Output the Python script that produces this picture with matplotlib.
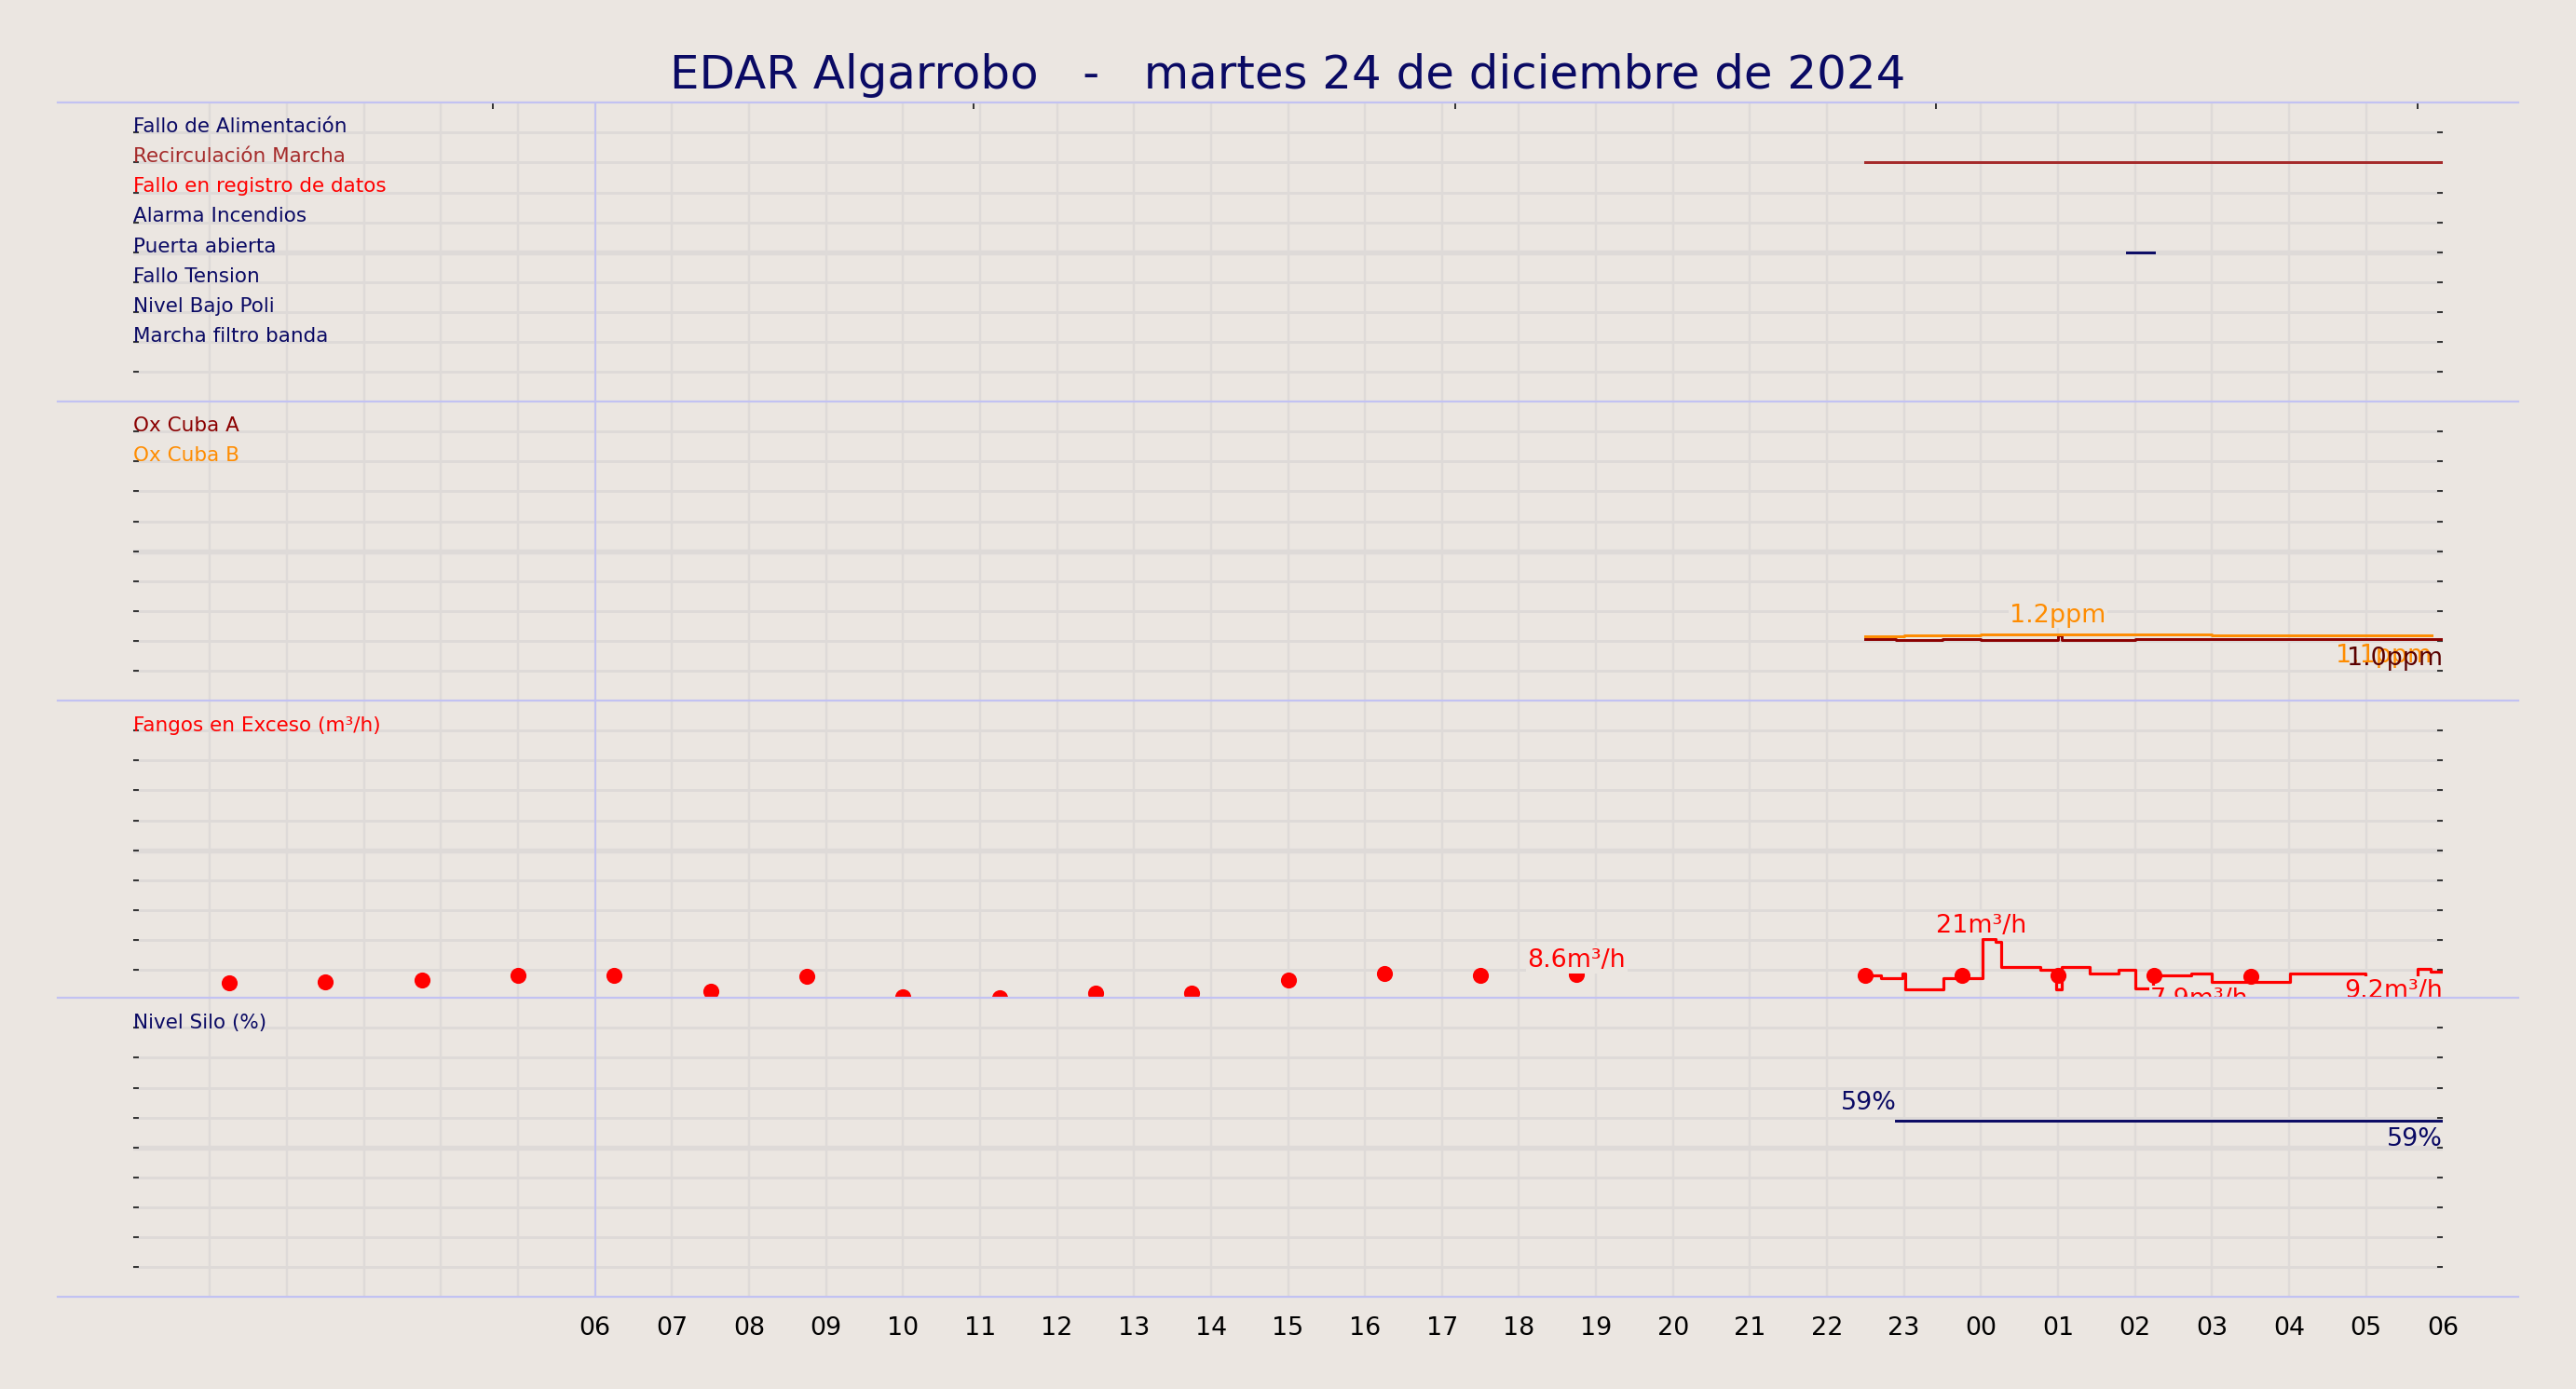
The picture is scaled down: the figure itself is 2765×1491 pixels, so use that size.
import matplotlib
matplotlib.use("Agg")
import matplotlib.pyplot as plt
from matplotlib.lines import Line2D
import numpy as np

W, H = 1568.0, 846.0
BG = "#ebe6e1"
NAVY = "#0a0a64"
GRID = "#dedad8"
BLUE = "#c2c2f2"

# ---------- data ----------
alarm_labels = ["Fallo de Alimentación", "Recirculación Marcha", "Fallo en registro de datos",
                "Alarma Incendios", "Puerta abierta", "Fallo Tension", "Nivel Bajo Poli",
                "Marcha filtro banda"]
alarm_colors = [NAVY, "#a52a2a", "#ff0000", NAVY, NAVY, NAVY, NAVY, NAVY]
recirc_hours = [22.5, 30.0]
puerta_hours = [25.9, 26.25]

ox_a_hours = [22.5, 22.9, 23.5, 24.0, 25.0, 25.05, 26.0, 27.0, 28.0, 30.0]
ox_a_vals = [1.15, 1.14, 1.16, 1.13, 1.22, 1.14, 1.15, 1.16, 1.15, 1.15]
ox_b_hours = [22.5, 23.0, 23.5, 24.0, 25.0, 26.0, 27.0, 28.0, 29.0, 29.85]
ox_b_vals = [1.21, 1.22, 1.23, 1.24, 1.24, 1.24, 1.23, 1.23, 1.23, 1.23]

fango_dot_hours = [1.25, 2.5, 3.75, 5.0, 6.25, 7.5, 8.75, 10.0, 11.25, 12.5, 13.75, 15.0,
                   16.25, 17.5, 18.75, 22.5, 23.75, 25.0, 26.25, 27.5]
fango_dot_vals = [5.7, 6.2, 6.8, 8.5, 8.5, 2.8, 7.9, 1.1, 0.6, 2.3, 2.3, 6.8,
                  9.0, 8.5, 8.6, 8.5, 8.5, 8.5, 8.5, 7.9]
fango_step_hours = [22.49, 22.70, 22.98, 23.02, 23.51, 24.02, 24.19, 24.26, 24.77,
                    24.98, 25.05, 25.41, 25.79, 26.0, 26.24, 26.73, 27.0, 28.01, 28.99,
                    29.67, 29.84, 30.0]
fango_step_vals = [8.5, 7.3, 9.0, 3.4, 7.3, 20.9, 19.8, 11.3, 10.2, 3.4, 11.3, 9.0,
                   10.2, 4.0, 8.5, 9.0, 6.2, 9.0, 7.3, 10.7, 9.6, 9.6]

silo_hours = [22.9, 30.0]
silo_vals = [59, 59]

tick_hours = list(range(6, 31))
tick_labels = ["%02d" % (h % 24) for h in tick_hours]

# ---------- figure ----------
fig = plt.figure(figsize=(15.68, 8.46), dpi=176.34, facecolor=BG)
X0, X1 = 81, 1487
tops = [63, 245, 427, 608]
ph = 182
ylims = [(0, 10), (0, 5.6), (0, 103), (0, 100)]
axes = []
for t, yl in zip(tops, ylims):
    ax = fig.add_axes([X0 / W, 1 - (t + ph) / H, (X1 - X0) / W, ph / H])
    ax.set_facecolor(BG)
    ax.set_xlim(0, 30)
    ax.set_ylim(*yl)
    for s in ax.spines.values():
        s.set_visible(False)
    gy = np.linspace(yl[0], yl[1], 11)
    for i, g in enumerate(gy[1:-1], 1):
        ax.axhline(g, color=GRID, lw=2.2 if i == 5 else 1.2, zorder=0)
    for h in range(1, 30):
        ax.axvline(h, color=GRID, lw=1.0, zorder=0)
    ax.set_yticks(gy[1:])
    ax.tick_params(axis="y", left=True, right=True, direction="in", length=2.5,
                   labelleft=False, width=0.8, color="#333333")
    ax.tick_params(axis="x", bottom=False, labelbottom=False, top=False)
    ax.axvline(6, color=BLUE, lw=0.8, zorder=1)
    axes.append(ax)

a1, a2, a3, a4 = axes
a1.set_xticks([4.67 + 6.25 * k for k in range(5)])
a1.tick_params(axis="x", top=True, direction="in", length=3, color="#333333")

FS = 8.8
# panel 1
for i, (lab, c) in enumerate(zip(alarm_labels, alarm_colors)):
    a1.text(0, 10 - (i + 0.78) * 1.0, lab, color=c, fontsize=FS, va="center", ha="left")
a1.plot(recirc_hours, [10 - 2.0] * 2, color="#a52a2a", lw=1.2)
a1.plot(puerta_hours, [10 - 5.0] * 2, color=NAVY, lw=1.2)

# panel 2
a2.text(0, 5.6 * 0.923, "Ox Cuba A", color="#8b0000", fontsize=FS, va="center")
a2.text(0, 5.6 * 0.823, "Ox Cuba B", color="#ff8c00", fontsize=FS, va="center")
a2.step(ox_a_hours, ox_a_vals, where="post", color="#8b0000", lw=1.2)
a2.step(ox_b_hours, ox_b_vals, where="post", color="#ff8c00", lw=1.2)
bb = dict(facecolor=BG, edgecolor="none", pad=0.5)
a2.text(25.0, 1.38, "1.2ppm", color="#ff8c00", fontsize=11, ha="center", va="bottom", bbox=bb)
a2.text(29.85, 1.08, "1.1ppm", color="#ff8c00", fontsize=11, ha="right", va="top")
a2.text(30.0, 1.03, "1.0ppm", color="#5a0000", fontsize=11, ha="right", va="top")

# panel 3
a3.text(0, 103 * 0.92, "Fangos en Exceso (m³/h)", color="#ff0000", fontsize=FS, va="center")
a3.plot(fango_dot_hours, fango_dot_vals, "o", color="#ff0000", ms=6, zorder=3, clip_on=False)
a3.step(fango_step_hours, fango_step_vals, where="post", color="#ff0000", lw=1.3, zorder=3)
a3.text(24.0, 21.5, "21m³/h", color="#ff0000", fontsize=11, ha="center", va="bottom", bbox=bb, zorder=4)
a3.text(18.75, 9.5, "8.6m³/h", color="#ff0000", fontsize=11, ha="center", va="bottom", bbox=bb, zorder=4)
t1 = a3.text(26.2, 4.5, "7.9m³/h", color="#ff0000", fontsize=11, ha="left", va="top", bbox=bb, zorder=4)
t2 = a3.text(30.0, 7.5, "9.2m³/h", color="#ff0000", fontsize=11, ha="right", va="top", bbox=bb, zorder=4)
for t in (t1, t2):
    t.set_clip_on(False)

# panel 4
a4.text(0, 92, "Nivel Silo (%)", color=NAVY, fontsize=FS, va="center")
a4.plot(silo_hours, silo_vals, color=NAVY, lw=1.2)
a4.text(22.9, 61, "59%", color=NAVY, fontsize=11, ha="right", va="bottom")
a4.text(30.0, 57, "59%", color=NAVY, fontsize=11, ha="right", va="top")
a4.set_xticks(tick_hours)
a4.set_xticklabels(tick_labels, fontsize=11)
a4.tick_params(axis="x", bottom=True, labelbottom=True, length=0, pad=8)

for y in [63, 245, 427, 608, 790]:
    fig.add_artist(Line2D([35 / W, 1533 / W], [1 - y / H] * 2, color=BLUE, lw=0.9, zorder=5))

fig.text(784 / W, 1 - 46 / H, "EDAR Algarrobo   -   martes 24 de diciembre de 2024",
         ha="center", va="center", fontsize=20.4, color=NAVY)

fig.savefig("out.png", dpi=176.34, facecolor=BG)
